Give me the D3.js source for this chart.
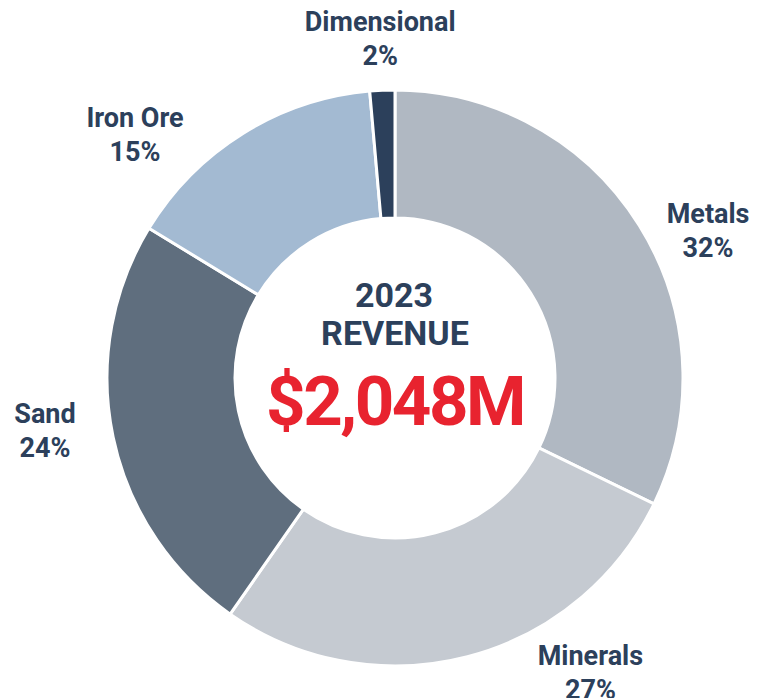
<!DOCTYPE html>
<html>
<head>
<meta charset="utf-8">
<script src="https://cdn.jsdelivr.net/npm/d3@7"></script>
<style>
  body { margin: 0; background: #fff; }
  svg { display: block; font-family: Roboto, "Noto Sans", sans-serif; font-weight: 700; }
</style>
</head>
<body>
<div class="container"></div>
<script>
const categories = ['Metals', 'Minerals', 'Sand', 'Iron Ore', 'Dimensional'];
const shares = [32.2, 27.5, 24.0, 14.9, 1.4];
const shareLabels = ['32%', '27%', '24%', '15%', '2%'];
const sliceColors = ['#b0b8c2', '#c5cad1', '#5f6e7e', '#a3bad2', '#2c405b'];

const centerYear = '2023';
const centerTitle = 'REVENUE';
const centerValue = '$2,048M';

// where each label block sits: [angle in degrees clockwise from top, radius]
const labelSpots = [[64.8, 346], [146.5, 354], [261.4, 354], [313.1, 356], [357.5, 339]];

const width = 757;
const height = 698;
const cx = 395;
const cy = 378;
const outerR = 288;
const innerR = 160;
const navy = '#2c405b';

const svg = d3
  .select('.container')
  .append('svg')
  .attr('width', width)
  .attr('height', height);

const g = svg.append('g').attr('transform', `translate(${cx},${cy})`);

const pie = d3.pie().sort(null).value((d) => d);
const arc = d3.arc().innerRadius(innerR).outerRadius(outerR);

g.selectAll('path')
  .data(pie(shares))
  .enter()
  .append('path')
  .attr('d', arc)
  .attr('fill', (d, i) => sliceColors[i])
  .attr('stroke', '#fff')
  .attr('stroke-width', 3);

const labels = g
  .selectAll('text.label')
  .data(categories)
  .enter()
  .append('text')
  .attr('class', 'label')
  .attr('text-anchor', 'middle')
  .attr('fill', navy)
  .style('font-size', '27px')
  .attr('transform', (d, i) => {
    const [x, y] = d3.pointRadial((labelSpots[i][0] * Math.PI) / 180, labelSpots[i][1]);
    return `translate(${x},${y})`;
  });

labels.append('tspan').attr('x', 0).attr('y', -8).text((d) => d);
labels.append('tspan').attr('x', 0).attr('y', 26).text((d, i) => shareLabels[i]);

g.append('text')
  .attr('text-anchor', 'middle')
  .attr('x', -1)
  .attr('y', -71)
  .attr('fill', navy)
  .style('font-size', '34px')
  .text(centerYear);

g.append('text')
  .attr('text-anchor', 'middle')
  .attr('x', 0)
  .attr('y', -33)
  .attr('fill', navy)
  .style('font-size', '34px')
  .text(centerTitle);

g.append('text')
  .attr('text-anchor', 'middle')
  .attr('x', 0)
  .attr('y', 47)
  .attr('fill', '#e8232f')
  .style('font-size', '69px')
  .style('letter-spacing', '-2.5px')
  .text(centerValue);
</script>
</body>
</html>
